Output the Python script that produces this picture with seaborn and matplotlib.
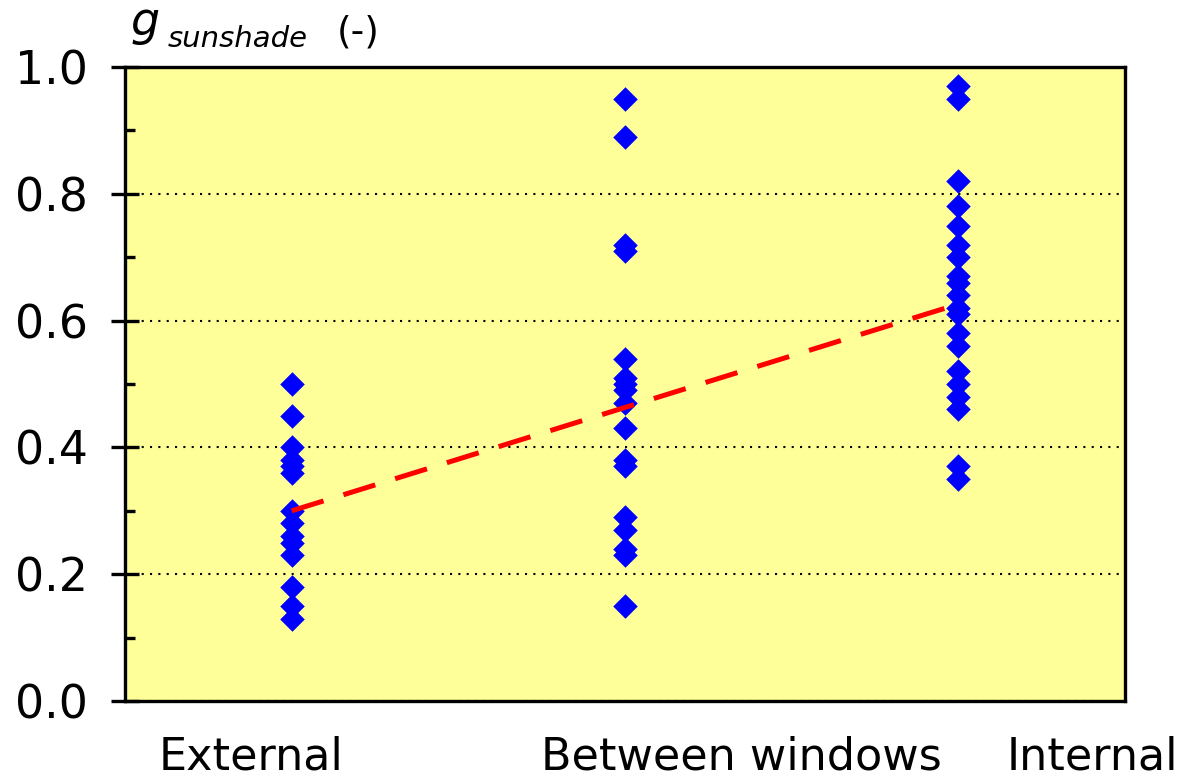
import numpy as np
import pandas as pd
import matplotlib
matplotlib.use("Agg")
import matplotlib.pyplot as plt
from matplotlib.ticker import MultipleLocator, FormatStrFormatter
import seaborn as sns

# ---- data ----
categories = ["External", "Between windows", "Internal"]
external = [0.50, 0.45, 0.40, 0.38, 0.37, 0.36, 0.30, 0.28, 0.26, 0.25, 0.23,
            0.18, 0.15, 0.13]
between = [0.95, 0.89, 0.72, 0.71, 0.54, 0.51, 0.50, 0.49, 0.47, 0.43, 0.38,
           0.37, 0.29, 0.27, 0.24, 0.23, 0.15]
internal = [0.97, 0.95, 0.82, 0.78, 0.75, 0.72, 0.70, 0.67, 0.66, 0.64, 0.62,
            0.61, 0.58, 0.56, 0.52, 0.50, 0.48, 0.46, 0.37, 0.35]
trend = [0.30, 0.463, 0.626]
y_ticks = [0.0, 0.2, 0.4, 0.6, 0.8, 1.0]

df = pd.DataFrame({
    "position": (["External"] * len(external) + ["Between windows"] * len(between)
                 + ["Internal"] * len(internal)),
    "g": external + between + internal,
})

sns.set_style("ticks")
plt.rcParams["font.family"] = ["DejaVu Sans"]
plt.rcParams["text.color"] = "black"

W, H = 1186, 778
fig = plt.figure(figsize=(W / 100, H / 100), dpi=100)
ax = fig.add_axes([125 / W, (H - 701) / H, 1000 / W, 634 / H])
ax.set_facecolor("#FFFF99")
ax.set_axisbelow(True)

sns.stripplot(data=df, x="position", y="g", order=categories, jitter=False,
              marker="D", size=12.5, color="#0000FF", linewidth=0, ax=ax, zorder=3)

lw = 3.6
ax.plot(np.arange(len(categories)), trend, color="#FF0000", lw=lw,
        linestyle=(0, (24 / lw, 15 / lw)), zorder=4, solid_capstyle="butt",
        dash_capstyle="butt")

ax.set_xlim(-0.5, 2.5)
ax.set_ylim(0, 1)
ax.set_xticks([])
ax.set_xlabel("")
ax.set_ylabel("")
ax.set_yticks(y_ticks)
ax.yaxis.set_major_formatter(FormatStrFormatter("%.1f"))
ax.yaxis.set_minor_locator(MultipleLocator(0.1))
ax.tick_params(axis="y", which="major", direction="inout", length=20, width=2.4,
               labelsize=33, pad=17, color="black", labelcolor="black")
ax.tick_params(axis="y", which="minor", direction="in", length=7, width=2.4,
               color="black")
ax.yaxis.grid(True, which="major", color="black", linestyle=(0, (1, 3)),
              linewidth=1.5)
ax.xaxis.grid(False)

for sp in ax.spines.values():
    sp.set_visible(True)
    sp.set_color("black")
    sp.set_linewidth(2.4)

# category labels below the plot
label_x = [251, 741, 1092]
for name, px in zip(categories, label_x):
    fig.text(px / W, 1 - 770 / H, name, ha="center", va="baseline",
             fontsize=32, color="black")

# y-axis title
fig.text(131 / W, 1 - 35 / H, "g", fontsize=33, style="italic",
         ha="left", va="baseline", color="black")
fig.text(168 / W, 1 - 47 / H, "sunshade", fontsize=21, style="italic",
         ha="left", va="baseline", color="black")
fig.text(358 / W, 1 - 42 / H, "(-)", fontsize=27, ha="center", va="baseline",
         color="black")

fig.savefig("out.png", dpi=100, facecolor="white")
